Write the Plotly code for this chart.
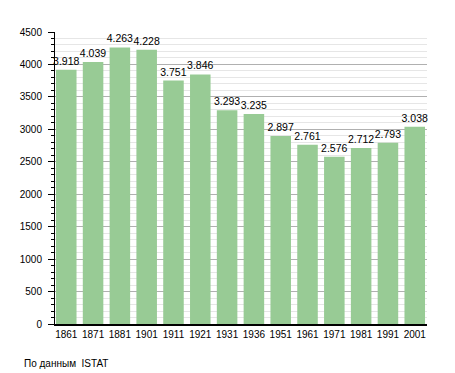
import plotly.graph_objects as go

years = ["1861", "1871", "1881", "1901", "1911", "1921", "1931", "1936",
         "1951", "1961", "1971", "1981", "1991", "2001"]
population = [3918, 4039, 4263, 4228, 3751, 3846, 3293, 3235,
              2897, 2761, 2576, 2712, 2793, 3038]
y_ticks = [0, 500, 1000, 1500, 2000, 2500, 3000, 3500, 4000, 4500]
source_note = "По данным  ISTAT"

fig = go.Figure(go.Bar(
    x=years, y=population,
    width=0.766,
    marker=dict(color="#98cb95", line=dict(width=0)),
    texttemplate="%{y:,}", textposition="outside",
    constraintext="none",
    textfont=dict(family="Liberation Sans, Arial", size=10.5, color="black"),
    cliponaxis=False,
))

fig.update_layout(
    width=455, height=373,
    margin=dict(l=42, r=36, t=24, b=57),
    paper_bgcolor="white", plot_bgcolor="white",
    separators=",.",
    showlegend=False,
    font=dict(family="Liberation Sans, Arial", size=10, color="black"),
    xaxis=dict(
        range=[-0.42, 13.457],
        showline=True, linecolor="black", linewidth=1.5,
        ticks="", showgrid=False,
        tickfont=dict(size=10),
    ),
    yaxis=dict(
        range=[0, 4500], tickvals=y_ticks,
        showline=True, linecolor="black", linewidth=1,
        ticks="outside", ticklen=6, tickcolor="black",
        ticklabelstandoff=4,
        showgrid=True, gridcolor="#b0b0b0", gridwidth=1,
        zeroline=False,
        minor=dict(dtick=100, ticks="outside", ticklen=3, tickcolor="black",
                   showgrid=True, gridcolor="#e6e6e6", gridwidth=1),
        tickfont=dict(size=10),
    ),
    annotations=[dict(
        text=source_note, xref="paper", yref="paper",
        x=-33/377, y=-32/292, xanchor="left", yanchor="top",
        showarrow=False, font=dict(size=10, color="black"),
    )],
)

fig.write_html("out.html")
